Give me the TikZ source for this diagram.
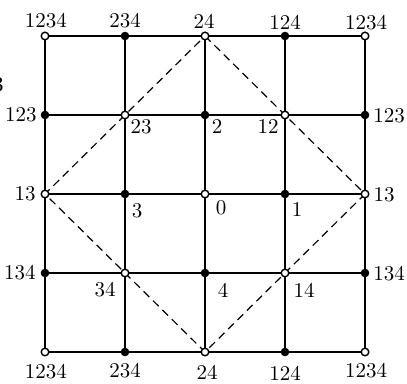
\documentclass[tikz,border=0pt]{standalone}
\begin{document}
\begin{tikzpicture}[x=0.5pt,y=-0.5pt,
  opendot/.style={circle,draw=black,fill=white,line width=0.7pt,inner sep=0pt,minimum size=3.8pt},
  fulldot/.style={circle,fill=black,inner sep=0pt,minimum size=4.3pt},
  gridline/.style={line width=0.85pt},
  diag/.style={line width=0.6pt,dash pattern=on 4pt off 2.6pt},
  lab/.style={inner sep=0pt,font=\fontsize{10.5}{12}\selectfont}]
\useasboundingbox (0,0) rectangle (407,384);
% coordinates of grid points
\coordinate (c00) at (45,36);  \coordinate (c10) at (125,36);  \coordinate (c20) at (205,36);  \coordinate (c30) at (285,36);  \coordinate (c40) at (365,36);
\coordinate (c01) at (45,115); \coordinate (c11) at (125,115); \coordinate (c21) at (205,115); \coordinate (c31) at (285,115); \coordinate (c41) at (365,115);
\coordinate (c02) at (45,194); \coordinate (c12) at (125,194); \coordinate (c22) at (205,194); \coordinate (c32) at (285,194); \coordinate (c42) at (365,194);
\coordinate (c03) at (45,273); \coordinate (c13) at (125,273); \coordinate (c23) at (205,273); \coordinate (c33) at (285,273); \coordinate (c43) at (365,273);
\coordinate (c04) at (45,352); \coordinate (c14) at (125,352); \coordinate (c24) at (205,352); \coordinate (c34) at (285,352); \coordinate (c44) at (365,352);
% grid lines
\foreach \i in {0,...,4}{
  \draw[gridline] (c\i0) -- (c\i4);
  \draw[gridline] (c0\i) -- (c4\i);
}
% dashed diamond
\draw[diag] (c20) -- (c42) -- (c24) -- (c02) -- cycle;
% markers
\foreach \p in {00,40,04,44,20,24,11,31,02,42,22,13,33}{
  \node[opendot] (p\p) at (c\p) {};
}
\foreach \p in {10,14,30,34,01,41,21,12,32,03,43,23}{
  \node[fulldot] (p\p) at (c\p) {};
}
% labels
\node[lab] (t0) at (46,21) {1234};
\node[lab] (t1) at (125,21) {234};
\node[lab] (t2) at (204,21) {24};
\node[lab] (t3) at (285,22) {124};
\node[lab] (t4) at (366,23) {1234};
\node[lab] (b0) at (46,372) {1234};
\node[lab] (b1) at (125,371) {234};
\node[lab] (b2) at (207,372) {24};
\node[lab] (b3) at (285,373) {124};
\node[lab] (b4) at (366,371) {1234};
\node[lab] (l1) at (21,115) {123};
\node[lab] (r1) at (389,116) {123};
\node[lab] (l2) at (25,194) {13};
\node[lab] (r2) at (384,195) {13};
\node[lab] (l3) at (20,273) {134};
\node[lab] (r3) at (389,274) {134};
\node[lab] (m23) at (141,127) {23};
\node[lab] (m2) at (217,127) {2};
\node[lab] (m12) at (268,127) {12};
\node[lab] (m3) at (137,211) {3};
\node[lab] (m0) at (221,208) {0};
\node[lab] (m1) at (297,210) {1};
\node[lab] (m34) at (105,290) {34};
\node[lab] (m4) at (223,290) {4};
\node[lab] (m14) at (304,290) {14};
\node[lab,anchor=east] (edge3) at (4,85) {3};
\end{tikzpicture}
\end{document}
